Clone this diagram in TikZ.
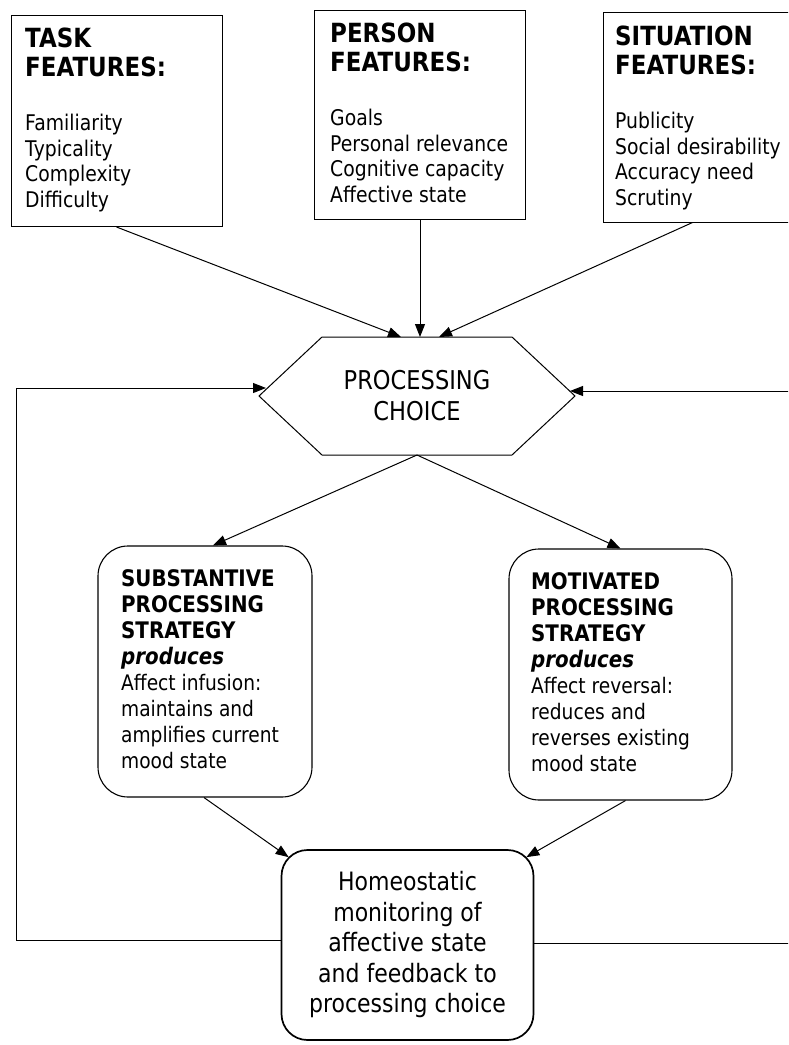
\documentclass[tikz,border=0pt]{standalone}
\usepackage{fontspec}
\setmainfont[FakeStretch=0.87]{DejaVu Sans}
\usetikzlibrary{arrows.meta}

\newcommand{\hd}[1]{{\fontsize{26.4}{28}\selectfont\bfseries #1}}
\newcommand{\shd}[1]{{\fontsize{22.8}{26}\selectfont\bfseries #1}}

\tikzset{
  featbox/.style={draw, line width=1pt, minimum width=211pt, minimum height=211pt, inner sep=0pt},
  feattext/.style={anchor=north west, inner sep=0pt, align=left, font=\fontsize{21.6}{25.5}\selectfont},
  stratbox/.style={draw, line width=1.1pt, rounded corners=30pt, minimum height=251pt, inner sep=0pt},
  strattext/.style={anchor=north west, inner sep=0pt, align=left, font=\fontsize{21.4}{26}\selectfont},
  homebox/.style={draw, line width=1.7pt, rounded corners=26pt, minimum width=252pt, minimum height=190pt, align=center, font=\fontsize{25.3}{30.5}\selectfont},
  arr/.style={-{Triangle[length=13pt,width=10pt]}, line width=1pt},
}

\begin{document}
\begin{tikzpicture}[x=1pt, y=-1pt]
    \clip (0,0) rectangle (788,1045);
    \fill[white] (0,0) rectangle (788,1045);

    % Feature boxes
    \node[featbox] (task) at (116.5,121) {};
    \node[feattext] (tasktxt) at (25,28) {\hd{TASK}\\[3pt]\hd{FEATURES:}\\[29pt]Familiarity\\Typicality\\Complexity\\Difficulty};

    \node[featbox, minimum height=209pt] (person) at (420,114.5) {};
    \node[feattext] (persontxt) at (330,23) {\hd{PERSON}\\[3pt]\hd{FEATURES:}\\[29pt]Goals\\Personal relevance\\Cognitive capacity\\Affective state};

    \node[featbox, minimum height=210pt] (situ) at (708.5,117) {};
    \node[feattext] (situtxt) at (615,26) {\hd{SITUATION}\\[3pt]\hd{FEATURES:}\\[29pt]Publicity\\Social desirability\\Accuracy need\\Scrutiny};

    % Processing choice
    \draw[line width=1pt] (259,396) -- (322,337) -- (512,337) -- (575,396) -- (512,455) -- (322,455) -- cycle;
    \node[align=center, font=\fontsize{25.9}{31}\selectfont] (choice) at (417,396) {PROCESSING\\CHOICE};
    \coordinate (hexS) at (417,455);
    \coordinate (hexW) at (266,388);
    \coordinate (hexE) at (570,391);

    \draw[arr] (task.south) -- (401,337);
    \draw[arr] (person.south) -- (420,337);
    \draw[arr] ([xshift=-16pt]situ.south) -- (439,337);

    % Strategies
    \node[stratbox, minimum width=214pt] (subst) at (205,671.5) {};
    \node[strattext] (substtxt) at (121,569.5) {\shd{SUBSTANTIVE}\\\shd{PROCESSING}\\\shd{STRATEGY}\\\shd{\itshape produces}\\Affect infusion:\\maintains and\\amplifies current\\mood state};

    \node[stratbox, minimum width=223pt] (motiv) at (620.5,674.5) {};
    \node[strattext] (motivtxt) at (531,572.5) {\shd{MOTIVATED}\\\shd{PROCESSING}\\\shd{STRATEGY}\\\shd{\itshape produces}\\Affect reversal:\\reduces and\\reverses existing\\mood state};

    \draw[arr] (hexS) -- ([xshift=8pt]subst.north);
    \draw[arr] (hexS) -- (motiv.north);

    % Monitoring
    \node[homebox] (home) at (407.5,945) {Homeostatic\\monitoring of\\affective state\\and feedback to\\processing choice};

    \draw[arr] ([xshift=-1pt]subst.south) -- ([xshift=8pt,yshift=-8pt]home.north west);
    \draw[arr] ([xshift=5pt]motiv.south) -- ([xshift=-8pt,yshift=-8pt]home.north east);

    % Feedback loops
    \draw[arr] ([yshift=5pt]home.west) -- ++(-264,0) |- (hexW);
    \draw[arr] ([yshift=2pt]home.east) -- ++(270,0) |- (hexE);
\end{tikzpicture}
\end{document}
